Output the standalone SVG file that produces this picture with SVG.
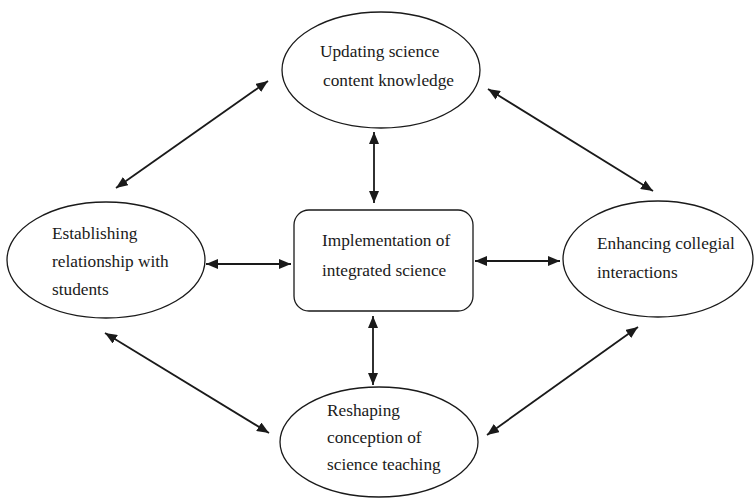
<svg xmlns="http://www.w3.org/2000/svg" width="754" height="499" viewBox="0 0 754 499">
<defs>
<marker id="ah" viewBox="0 0 12 10" refX="12" refY="5" markerWidth="12" markerHeight="10" markerUnits="userSpaceOnUse" orient="auto-start-reverse">
<path d="M0,0 L12,5 L0,10 Z" fill="#1a1a1a"/>
</marker>
</defs>
<style>
.n{fill:#fff;stroke:#1a1a1a;stroke-width:1.3}
.t{font-family:"Liberation Serif","Times New Roman",serif;font-size:17.3px;fill:#1a1a1a}
.c{stroke:#1a1a1a;stroke-width:1.8;fill:none;marker-start:url(#ah);marker-end:url(#ah)}
</style>
<rect width="754" height="499" fill="#fff"/>
<g id="connectors">
<line class="c" x1="116" y1="188" x2="268" y2="81"/>
<line class="c" x1="488" y1="89" x2="653" y2="191"/>
<line class="c" x1="105" y1="333" x2="269" y2="433"/>
<line class="c" x1="487" y1="435" x2="638" y2="327"/>
<line class="c" x1="374" y1="132" x2="374" y2="203"/>
<line class="c" x1="373" y1="316" x2="373" y2="385"/>
<line class="c" x1="206" y1="264" x2="291" y2="264"/>
<line class="c" x1="475" y1="261" x2="560" y2="261"/>
</g>
<g id="updating">
<ellipse class="n" cx="381" cy="70" rx="99" ry="58"/>
<text class="t" x="320" y="57">Updating science</text>
<text class="t" x="323" y="86">content knowledge</text>
</g>
<g id="establishing">
<ellipse class="n" cx="106" cy="260" rx="99" ry="58"/>
<text class="t" x="52" y="239">Establishing</text>
<text class="t" x="52" y="267">relationship with</text>
<text class="t" x="52" y="295">students</text>
</g>
<g id="implementation">
<rect class="n" x="294" y="210" width="179" height="101" rx="15" ry="15"/>
<text class="t" x="322" y="246">Implementation of</text>
<text class="t" x="322" y="276">integrated science</text>
</g>
<g id="enhancing">
<ellipse class="n" cx="658" cy="259" rx="95" ry="58"/>
<text class="t" x="597" y="249">Enhancing collegial</text>
<text class="t" x="597" y="278">interactions</text>
</g>
<g id="reshaping">
<ellipse class="n" cx="379" cy="442" rx="99" ry="55"/>
<text class="t" x="327" y="416">Reshaping</text>
<text class="t" x="327" y="443">conception of</text>
<text class="t" x="327" y="470">science teaching</text>
</g>
</svg>
